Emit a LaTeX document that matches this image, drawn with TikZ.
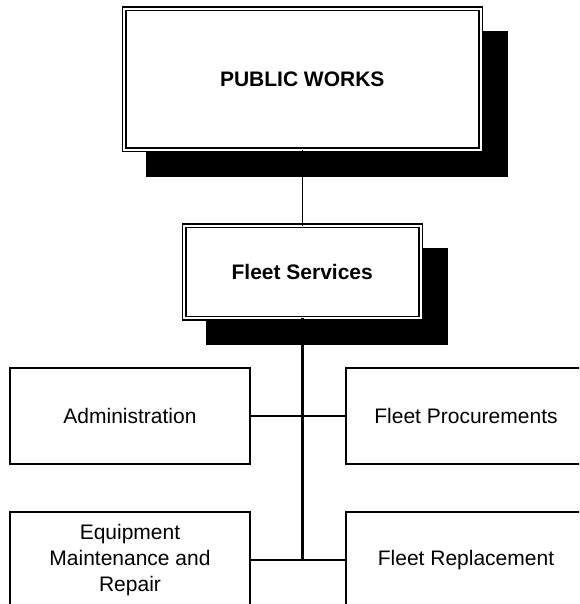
\documentclass[tikz,border=0pt]{standalone}
\usepackage{fontspec}
\setmainfont{Liberation Sans}
\usetikzlibrary{calc,backgrounds}
\tikzset{
  topbox/.style={draw, double, line width=1.5pt, double distance=2pt, fill=white, outer sep=0pt, inner sep=0pt, font=\fontsize{21}{26}\selectfont\bfseries},
  unitbox/.style={draw, line width=1.5pt, fill=white, outer sep=0pt, minimum width=240pt, minimum height=96pt, align=center, font=\fontsize{21}{26}\selectfont},
  shadowbox/.style={fill=black}
}
\begin{document}
\begin{tikzpicture}[x=1pt,y=-1pt]
\useasboundingbox (0,0) rectangle (579,604);
\clip (0,0) rectangle (579,604);
\node(pw) at (302.25,79.5) [topbox, minimum width=356.5pt, minimum height=141pt]{PUBLIC WORKS};
\node(fs) at (302.25,271.75) [topbox, minimum width=236.5pt, minimum height=92.5pt]{Fleet Services};
\node(adm) at (130,416) [unitbox]{Administration};
\node(proc) at (466,416) [unitbox]{Fleet Procurements};
\node(equip) at (130,560) [unitbox]{Equipment\\Maintenance and\\Repair};
\node(repl) at (466,560) [unitbox]{Fleet Replacement};
\begin{scope}[on background layer]
\fill[shadowbox] ($(pw.north west)+(22,22)$) rectangle ($(pw.south east)+(27,27)$);
\fill[shadowbox] ($(fs.north west)+(22,22)$) rectangle ($(fs.south east)+(27,27)$);
\end{scope}

\draw [line width=1.5pt] (pw.south) -- (fs.north);
\draw [line width=2.5pt] (fs.south) -- (fs.south |- equip.east);
\draw [line width=1.5pt] (adm.east) -- (proc.west);
\draw [line width=1.5pt] (equip.east) -- (repl.west);

\end{tikzpicture}
\end{document}
